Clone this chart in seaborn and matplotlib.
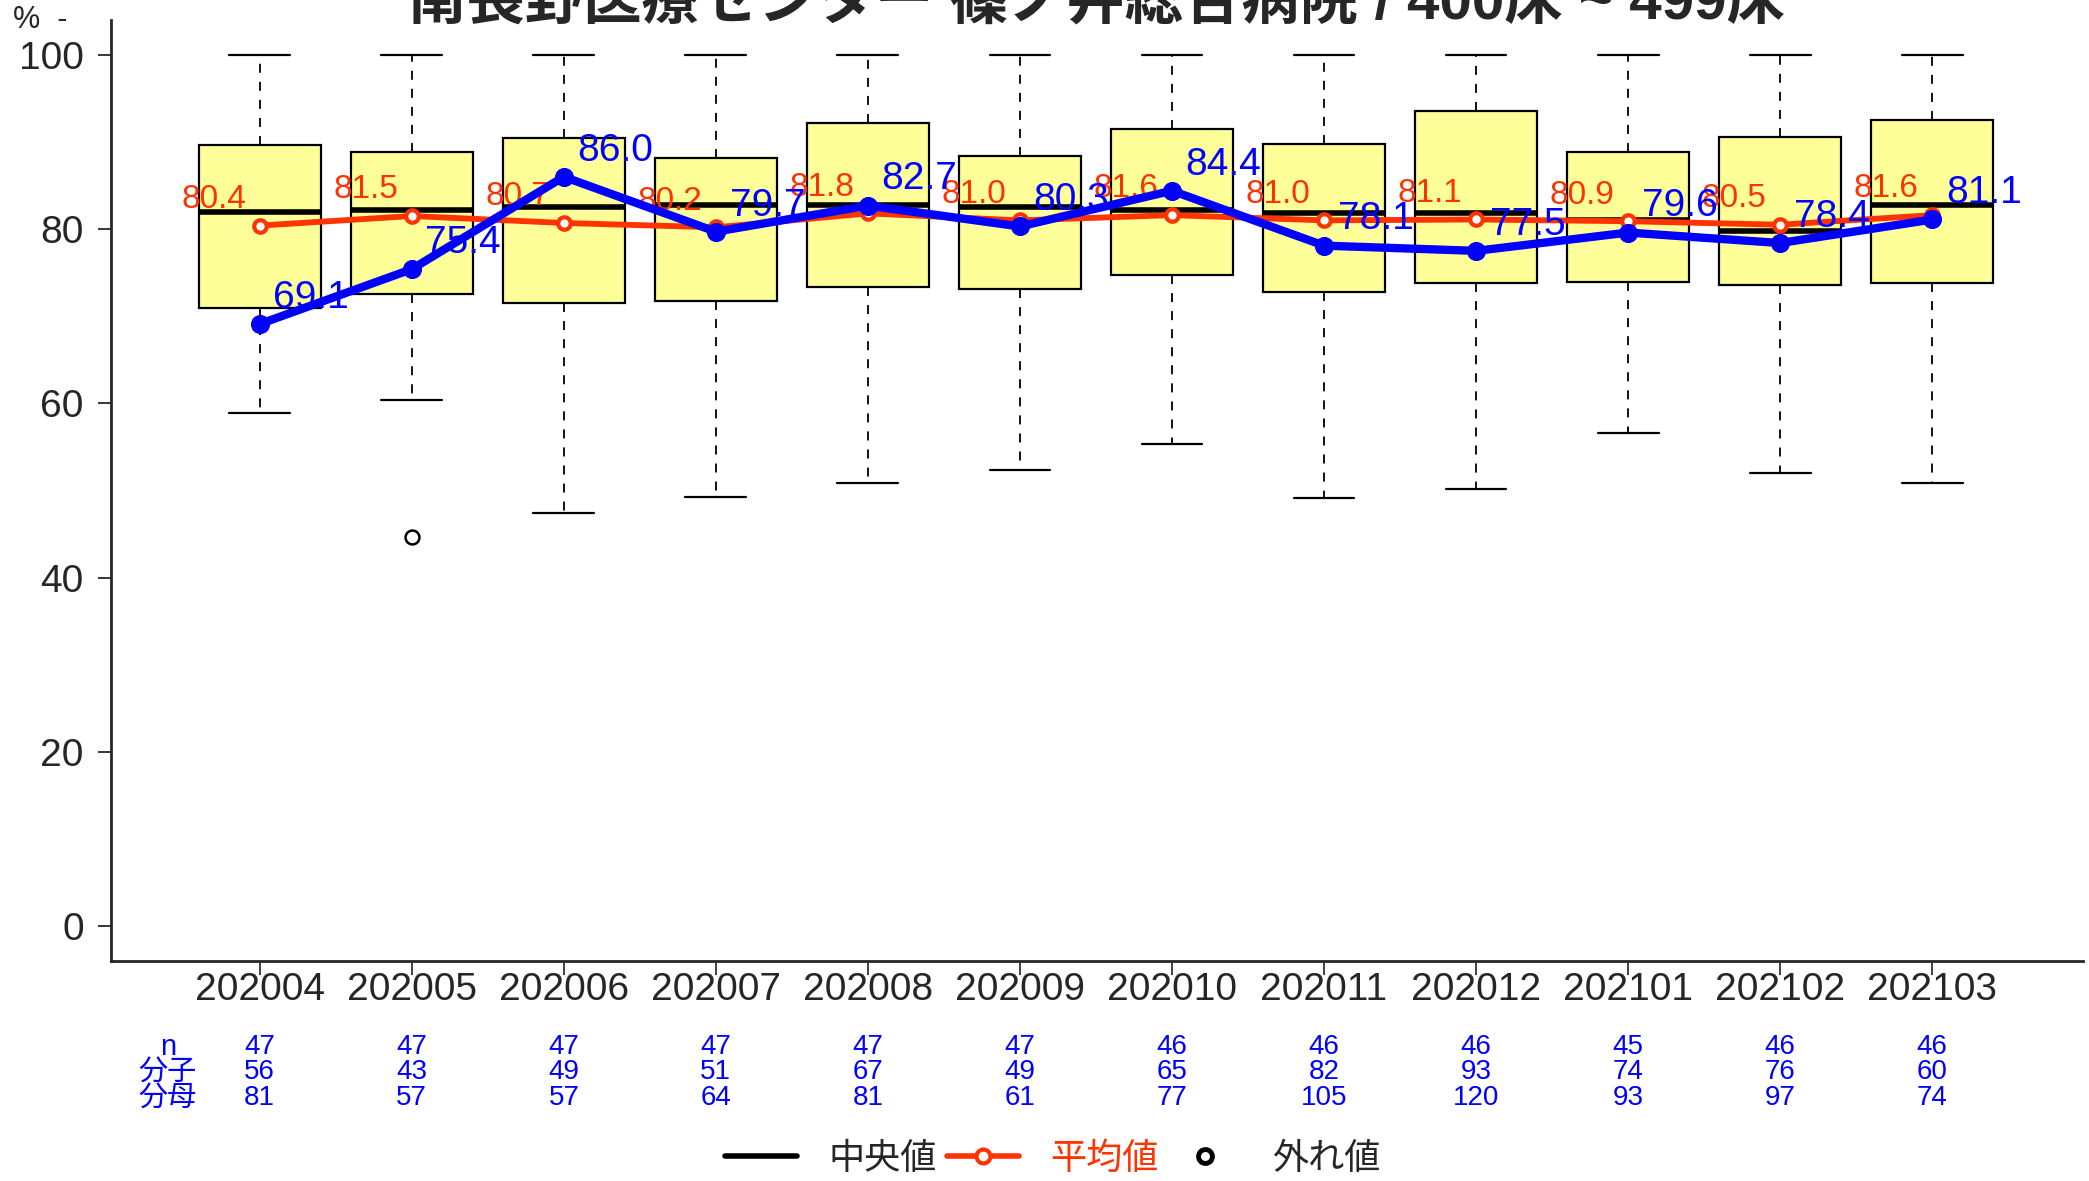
import numpy as np
import pandas as pd
import seaborn as sns
import matplotlib
matplotlib.use("Agg")
import matplotlib.pyplot as plt
from matplotlib.lines import Line2D

# data
months = ['202004', '202005', '202006', '202007', '202008', '202009',
          '202010', '202011', '202012', '202101', '202102', '202103']
q1 = [70.9, 72.6, 71.5, 71.8, 73.3, 73.1, 74.7, 72.8, 73.8, 73.9, 73.6, 73.8]
q3 = [89.7, 88.9, 90.5, 88.1, 92.2, 88.4, 91.5, 89.8, 93.6, 88.9, 90.6, 92.5]
med = [82.0, 82.2, 82.5, 82.8, 82.8, 82.5, 82.2, 81.8, 81.9, 81.0, 79.8, 82.8]
whis_lo = [58.9, 60.4, 47.4, 49.2, 50.9, 52.4, 55.3, 49.1, 50.2, 56.6, 52.0, 50.8]
whis_hi = [100, 100, 100, 100, 100, 100, 100, 100, 100, 100, 100, 100]
outliers = [[], [44.7], [], [], [], [], [], [], [], [], [], []]
means = [80.4, 81.5, 80.7, 80.2, 81.8, 81.0, 81.6, 81.0, 81.1, 80.9, 80.5, 81.6]
hospital = [69.1, 75.4, 86.0, 79.7, 82.7, 80.3, 84.4, 78.1, 77.5, 79.6, 78.4, 81.1]
n_hosp = [47, 47, 47, 47, 47, 47, 46, 46, 46, 45, 46, 46]
numer = [56, 43, 49, 51, 67, 49, 65, 82, 93, 74, 76, 60]
denom = [81, 57, 57, 64, 81, 61, 77, 105, 120, 93, 97, 74]
row_names = ['n', '分子', '分母']
title = '南長野医療センター 篠ノ井総合病院 / 400床 ~ 499床'

RED = '#FF3300'
BLUE = '#0000FF'

sns.set_style('ticks')
plt.rcParams['font.family'] = ['Liberation Sans', 'Noto Sans CJK JP']

fig = plt.figure(figsize=(20.89, 11.81), dpi=100)
ax = fig.add_axes([0.053, 0.1863, 0.944, 0.7968])

pos = np.arange(len(months))
df = pd.DataFrame({'pos': pos, 'mean': means, 'hosp': hospital})

stats = []
for i in range(len(months)):
    stats.append({'med': med[i], 'q1': q1[i], 'q3': q3[i],
                  'whislo': whis_lo[i], 'whishi': whis_hi[i],
                  'fliers': outliers[i]})

ax.bxp(stats, positions=pos, widths=0.8, capwidths=0.4, patch_artist=True,
       boxprops=dict(facecolor='#FFFF99', edgecolor='black', linewidth=1.6),
       medianprops=dict(color='black', linewidth=4, solid_capstyle='butt'),
       whiskerprops=dict(color='black', linewidth=1.3, linestyle=(0, (5, 5))),
       capprops=dict(color='black', linewidth=1.6),
       flierprops=dict(marker='o', markersize=10, markerfacecolor='none',
                       markeredgecolor='black', markeredgewidth=1.8),
       zorder=2)

# mean line
sns.lineplot(data=df, x='pos', y='mean', ax=ax, color=RED, linewidth=4.2,
             marker='o', markersize=9, markerfacecolor='white',
             markeredgecolor=RED, markeredgewidth=3, zorder=3)
for i in range(len(months)):
    ax.text(pos[i] - 0.09, means[i] + 3, f'{means[i]:.1f}', color=RED,
            fontsize=24, ha='right', va='center', zorder=3)

# hospital line
sns.lineplot(data=df, x='pos', y='hosp', ax=ax, color=BLUE, linewidth=6,
             marker='o', markersize=13, markeredgecolor=BLUE, zorder=4)
for i in range(len(months)):
    ax.text(pos[i] + 0.09, hospital[i] + 3, f'{hospital[i]:.1f}', color=BLUE,
            fontsize=28, ha='left', va='center', zorder=5)

ax.set_xlim(-0.98, 11.99)
ax.set_ylim(-4, 104)
ax.set_xticks(pos)
ax.set_xticklabels(months)
ax.set_yticks([0, 20, 40, 60, 80, 100])
ax.set_xlabel('')
ax.set_ylabel('')
ax.tick_params(axis='x', labelsize=28, length=10, width=1.3, pad=-2, color='#333333')
ax.tick_params(axis='y', labelsize=28, length=9.5, width=1.3, pad=10)
for s in ['top', 'right']:
    ax.spines[s].set_visible(False)
for s in ['left', 'bottom']:
    ax.spines[s].set_linewidth(2)

# count table under the axis
trans = ax.get_xaxis_transform()
rows_y = [-0.0914, -0.118, -0.1456]
for r, vals in enumerate([n_hosp, numer, denom]):
    ax.text(-0.605, rows_y[r], row_names[r], color=BLUE, fontsize=21,
            ha='center', va='center', transform=trans, clip_on=False)
    for i in range(len(months)):
        ax.text(pos[i], rows_y[r], str(vals[i]), color=BLUE, fontsize=20,
                ha='center', va='center', transform=trans, clip_on=False)

fig.text(0.525, 0.984, title, ha='center', va='baseline', fontsize=42,
         fontweight='bold')
fig.text(0.006, 0.983, '%  -', ha='left', va='center', fontsize=22)

handles = [Line2D([], [], color='black', linewidth=4),
           Line2D([], [], color=RED, linewidth=4, marker='o', markersize=10,
                  markerfacecolor='white', markeredgecolor=RED, markeredgewidth=3),
           Line2D([], [], color='none', marker='o', markersize=10,
                  markerfacecolor='white', markeredgecolor='black', markeredgewidth=3.5)]
leg = fig.legend(handles, ['中央値', '平均値', '外れ値'], loc='center',
                 bbox_to_anchor=(0.504, 0.0186), ncol=3, frameon=False,
                 fontsize=26, handlelength=2.0, handletextpad=0.85,
                 columnspacing=0.3)
leg.get_texts()[1].set_color(RED)

fig.savefig('out.png', dpi=100)
